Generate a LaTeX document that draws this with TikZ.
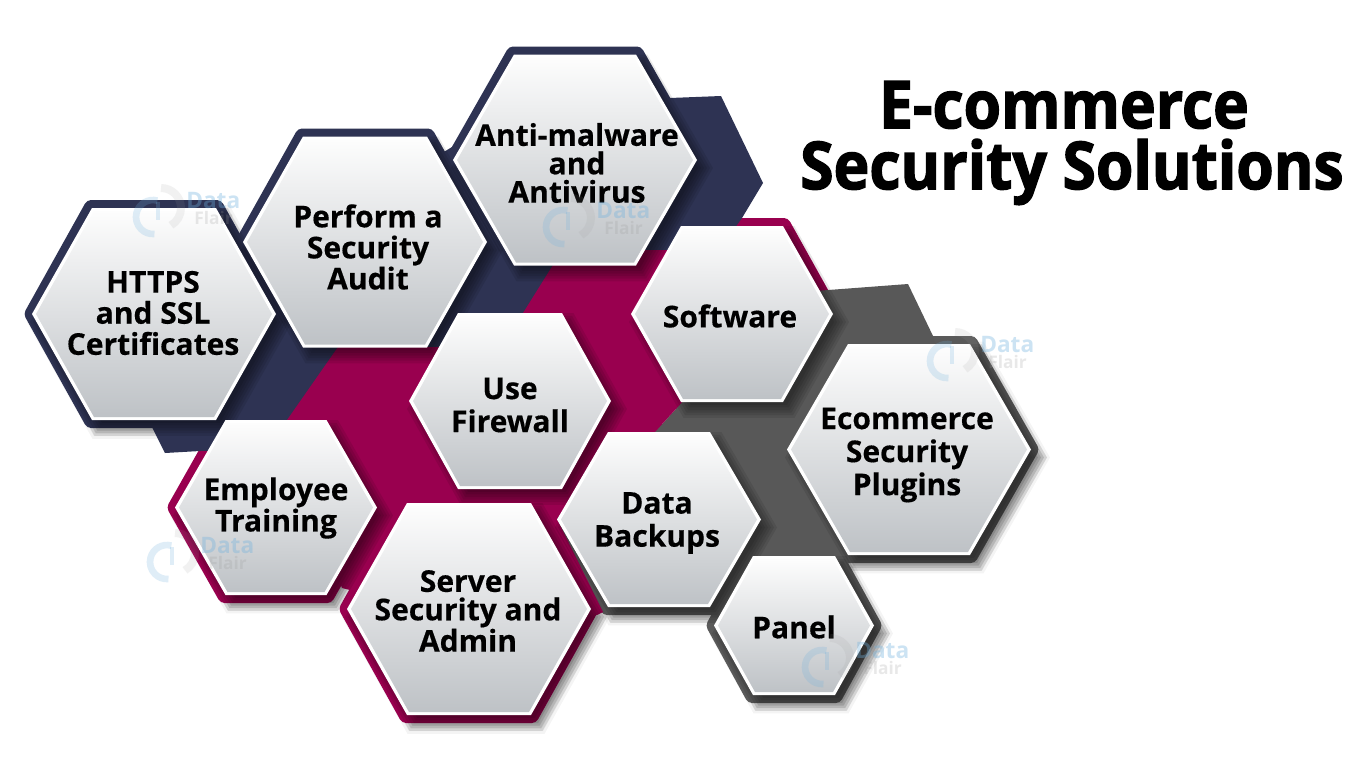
\documentclass[tikz,border=0pt]{standalone}
\usepackage{fontspec}
\setmainfont{Open Sans}
\newfontfamily\labelfont[FakeBold=0.4]{Open Sans Bold}
\newfontfamily\titlefont[FakeStretch=0.917,FakeBold=2]{Open Sans Bold}
\definecolor{navyband}{HTML}{2E3353}
\definecolor{magband}{HTML}{99004F}
\definecolor{greyband}{HTML}{585858}
\definecolor{greyouter}{HTML}{5A5A5A}
\definecolor{hextop}{HTML}{FDFDFD}
\definecolor{hexmid}{HTML}{DFE1E4}
\definecolor{hexbot}{HTML}{BEC2C6}
\definecolor{wmblue}{HTML}{6FB1DE}
\definecolor{wmgrey}{HTML}{9A9A9A}
\newcommand{\hexp}[5]{({#1-(#3)},{#2}) -- ({#1-(#5)},{#2-(#4)}) -- ({#1+(#5)},{#2-(#4)}) -- ({#1+(#3)},{#2}) -- ({#1+(#5)},{#2+(#4)}) -- ({#1-(#5)},{#2+(#4)}) -- cycle}
\newcommand{\hexouter}[6]{\fill[#1,rounded corners=3pt] \hexp{#2}{#3}{#4+8.5}{#5+8}{#6+5};}
\newcommand{\hexshadow}[6]{%
  \foreach \d in {-6,-3,0,3,6,9} {\fill[black,opacity=#1] \hexp{#2+7}{#3+8}{#4+\d}{#5+0.87*\d}{#6+0.5*\d};}}
\newcommand{\hexinner}[5]{%
  \fill[white] \hexp{#1}{#2}{#3}{#4}{#5};
  \shade[top color=hextop,middle color=hexmid,bottom color=hexbot] \hexp{#1}{#2}{#3-4}{#4-3}{#5-2};}
\newcommand{\watermark}[3]{%
  \begin{scope}[shift={(#2,#3)}]
    \draw[wmblue,opacity=.22,line width=5pt] (-0.6,-11.4) arc[start angle=75,end angle=275,radius=12.75pt];
    \draw[wmgrey,opacity=.13,line width=6pt] (3,-24) arc[start angle=90,end angle=-60,radius=15pt];
    \draw[wmblue,opacity=.22,line width=3pt] (0,-10) -- (0,8);
    \node[anchor=base west,inner sep=0pt,text=wmblue,opacity=.35,font={\fontsize{17}{17}\selectfont\bfseries}] (#1d) at (28,-4) {Data};
    \node[anchor=base west,inner sep=0pt,text=wmgrey,opacity=.22,font={\fontsize{13}{13}\selectfont\bfseries}] (#1f) at (36,12) {Flair};
  \end{scope}}
\tikzset{
  hexlabel/.style={align=center,inner sep=0pt,anchor=center,text=black},
  labelA/.style={hexlabel,font={\labelfont\fontsize{22.5}{23.3}\selectfont}},
  labelB/.style={hexlabel,font={\labelfont\fontsize{22.5}{21.3}\selectfont}},
  labelC/.style={hexlabel,font={\labelfont\fontsize{22.5}{24.8}\selectfont}},
  titletext/.style={align=center,inner sep=0pt,anchor=center,text=black,font={\titlefont\fontsize{49.5}{45.7}\selectfont}}
}
\begin{document}
\begin{tikzpicture}[x=0.75pt,y=-0.75pt]
\useasboundingbox (0,0) rectangle (1366,768);
\fill[white] (0,0) rectangle (1366,768);
% soft shadows falling on the white page
\hexshadow{.045}{154}{314}{125}{109}{64}
\hexshadow{.045}{276}{507.5}{104}{90}{52}
\hexshadow{.045}{469}{609}{125}{109}{64}
\hexshadow{.045}{909}{449.5}{125}{108}{63}
\hexshadow{.045}{659}{519.5}{105}{90}{53}
\hexshadow{.045}{794}{625.5}{83}{72}{43}
% magenta outers under navy band
\hexouter{magband}{276}{507.5}{101}{87.5}{50.5}
\hexouter{magband}{732}{314}{101}{88}{51}
% navy band and hexes
\fill[navyband] (670,98) -- (721,96) -- (763,183) -- (742,218) -- (690,290) -- (523,340) -- (300,440) -- (230,450) -- (200,451) -- (165,453) -- (152,427) -- (200,300) -- (480,130) -- cycle;
\hexouter{navyband}{575}{160}{122}{105.5}{61}
\hexouter{navyband}{365}{242}{122}{105.5}{62}
\hexouter{navyband}{154}{314}{122}{106}{62}
% grey hexes, then the grey band over them
\hexouter{greyouter}{659}{519.5}{102}{87.5}{51}
\hexouter{greyouter}{909}{449.5}{122}{105.5}{61}
\hexouter{greyouter}{794}{625.5}{80}{69.5}{41}
\fill[greyband] (815,291) -- (908,284) -- (933,336) -- (950,400) -- (900,555) -- (835,556) -- (753,556) -- (711,480) -- (655,432) -- (684,400) -- (720,340) -- cycle;
% magenta band
\fill[magband] (287,420) -- (338,347) -- (440,347) -- (460,313) -- (523,313) -- (553,265) -- (575,250) -- (667,250) -- (700,300) -- (684,400) -- (655,432) -- (610,440) -- (557,519) -- (603,612) -- (597,615) -- (500,590) -- (350,590) -- (342,588) -- (300,480) -- cycle;
\hexouter{magband}{469}{609}{122}{106}{62}
% shadows of the white hexagons
\hexshadow{.09}{154}{314}{122}{106}{62}
\hexshadow{.09}{365}{242}{122}{105.5}{62}
\hexshadow{.09}{575}{160}{122}{105.5}{61}
\hexshadow{.09}{510}{401}{101}{88}{52}
\hexshadow{.09}{732}{314}{101}{88}{51}
\hexshadow{.09}{909}{449.5}{122}{105.5}{61}
\hexshadow{.09}{659}{519.5}{102}{87.5}{51}
\hexshadow{.09}{794}{625.5}{80}{69.5}{41}
\hexshadow{.09}{276}{507.5}{101}{87.5}{50.5}
\hexshadow{.09}{469}{609}{122}{106}{62}
% faces
\hexinner{154}{314}{122}{106}{62}
\hexinner{365}{242}{122}{105.5}{62}
\hexinner{575}{160}{122}{105.5}{61}
\hexinner{510}{401}{101}{88}{52}
\hexinner{732}{314}{101}{88}{51}
\hexinner{909}{449.5}{122}{105.5}{61}
\hexinner{659}{519.5}{102}{87.5}{51}
\hexinner{794}{625.5}{80}{69.5}{41}
\hexinner{276}{507.5}{101}{87.5}{50.5}
\hexinner{469}{609}{122}{106}{62}
% labels
\node[labelA] (https) at (153,313) {HTTPS\\and SSL\\Certificates};
\node[labelA] (audit) at (368,247) {Perform a\\Security\\Audit};
\node[labelB] (anti) at (577,163) {Anti-malware\\and\\Antivirus};
\node[labelC] (firewall) at (510,405) {Use\\Firewall};
\node[labelC] (software) at (730,316) {Software};
\node[labelC] (plugins) at (907,455) {Ecommerce\\Security\\Plugins};
\node[labelC] (backups) at (657,523) {Data\\Backups};
\node[labelC] (panel) at (794,627) {Panel};
\node[labelB] (training) at (276,508) {Employee\\Training};
\node[labelB] (server) at (468,611) {Server\\Security and\\Admin};
% title
\node[titletext] (title) at (1072,143) {E-commerce\hspace*{12pt}\\Security Solutions};
% watermarks
\watermark{wma}{158}{212}
\watermark{wmb}{568}{222}
\watermark{wmc}{952}{356}
\watermark{wmd}{172}{557}
\watermark{wme}{827}{662}
\end{tikzpicture}
\end{document}
